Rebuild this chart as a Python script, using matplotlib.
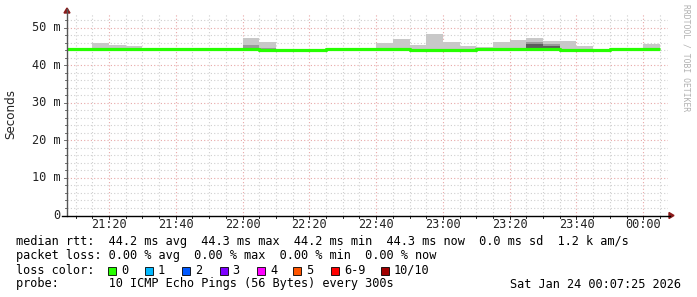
import numpy as np
import matplotlib
matplotlib.use("Agg")
import matplotlib.pyplot as plt

# 5-minute steps, minutes after 21:00 (first step 21:05 ... last 00:00)
step_start = list(range(5, 185, 5))
median_ms = [44.2, 44.2, 44.2, 44.2, 44.2, 44.2, 44.2, 44.2, 44.2, 44.2, 44.2, 44.2,
             44.1, 44.1, 44.1, 44.1, 44.3, 44.3, 44.2, 44.2, 44.2, 44.1, 44.1, 44.1,
             44.1, 44.3, 44.2, 44.2, 44.2, 44.2, 44.0, 44.0, 44.1, 44.3, 44.3, 44.2]
smoke_max = [44.5, 44.5, 46.0, 45.3, 45.1, 44.5, 44.5, 44.5, 44.5, 44.5, 44.5, 47.2,
             46.1, 44.4, 44.4, 44.4, 44.6, 44.6, 44.5, 46.0, 46.9, 45.3, 48.3, 46.1,
             45.1, 44.8, 46.1, 46.7, 47.3, 46.5, 46.3, 45.1, 44.4, 44.6, 44.6, 45.6]
smoke_mid = [44.4, 44.4, 44.5, 44.5, 44.5, 44.4, 44.4, 44.4, 44.4, 44.4, 44.4, 45.3,
             44.6, 44.3, 44.3, 44.3, 44.5, 44.5, 44.4, 44.5, 44.5, 44.4, 44.4, 44.4,
             44.4, 44.5, 44.4, 44.4, 46.1, 45.6, 44.3, 44.3, 44.3, 44.5, 44.5, 44.4]
smoke_dark = [44.3, 44.3, 44.3, 44.3, 44.3, 44.3, 44.3, 44.3, 44.3, 44.3, 44.3, 44.4,
              44.3, 44.2, 44.2, 44.2, 44.4, 44.4, 44.3, 44.3, 44.3, 44.2, 44.2, 44.2,
              44.2, 44.4, 44.3, 44.3, 45.6, 45.0, 44.2, 44.2, 44.2, 44.4, 44.4, 44.3]

x_ticks = [20, 40, 60, 80, 100, 120, 140, 160, 180]
x_labels = ["21:20", "21:40", "22:00", "22:20", "22:40", "23:00", "23:20", "23:40", "00:00"]
y_ticks = [0, 10, 20, 30, 40, 50]
y_labels = ["0", "10 m", "20 m", "30 m", "40 m", "50 m"]

loss_labels = ["0", "1", "2", "3", "4", "5", "6-9", "10/10"]
loss_colors = ["#26ff00", "#00b8ff", "#0059ff", "#7e00ff", "#ff00ff", "#ff5500", "#ff0000", "#a10000"]

W, H = 697, 297
fig = plt.figure(figsize=(W / 100, H / 100), dpi=100)
MONO = "DejaVu Sans Mono"
FS = 8.6

def fx(x):
    return x / W

def fy(y):
    return 1 - y / H

left, right, top, bottom = 67, 668, 12.5, 215.5
ax = fig.add_axes([fx(left), fy(bottom), (right - left) / W, (bottom - top) / H])
ax.set_xlim(7 + 25 / 60, 187 + 25 / 60)
ax.set_ylim(0, 54)

# grid
for m in range(10, 190, 5):
    major = m % 20 == 0
    ax.axvline(m, color="#e8a8a8" if major else "#cfcfcf", lw=0.8,
               ls=(0, (1, 2)), zorder=1)
for v in range(2, 54, 2):
    major = v % 10 == 0
    ax.axhline(v, color="#e8a8a8" if major else "#cfcfcf", lw=0.8,
               ls=(0, (1, 2)), zorder=1)

# smoke
starts = np.array(step_start)
med = np.array(median_ms)
low = med - 0.2
ax.bar(starts, np.array(smoke_max) - low, bottom=low, width=5, align="edge",
       color="#c8c8c8", linewidth=0, zorder=2)
ax.bar(starts, np.array(smoke_mid) - low, bottom=low, width=5, align="edge",
       color="#9a9a9a", linewidth=0, zorder=3)
ax.bar(starts, np.array(smoke_dark) - low, bottom=low, width=5, align="edge",
       color="#5c5c5c", linewidth=0, zorder=4)

# median line
sx = list(step_start) + [step_start[-1] + 5]
sy = list(median_ms) + [median_ms[-1]]
ax.step(sx, sy, where="post", color="#26ff00", lw=2.3, zorder=5, solid_capstyle="butt")

for s in ax.spines.values():
    s.set_visible(False)
ax.set_xticks([])
ax.set_yticks([])

# axes lines and arrows
fig.add_artist(plt.Line2D([fx(left), fx(left)], [fy(bottom), fy(9)], color="#555555", lw=1.0))
fig.add_artist(plt.Line2D([fx(62), fx(670)], [fy(bottom), fy(bottom)], color="#000000", lw=1.0))
fig.add_artist(plt.Polygon([[fx(64), fy(13)], [fx(70), fy(13)], [fx(67), fy(8)]],
                           closed=True, color="#8b1a1a"))
fig.add_artist(plt.Polygon([[fx(669), fy(212.5)], [fx(669), fy(218.5)], [fx(674), fy(215.5)]],
                           closed=True, color="#8b1a1a"))

# tick marks
xscale = (right - left) / 180.0
x0 = 7 + 25 / 60
for m in range(10, 190, 5):
    px = left + (m - x0) * xscale
    if px > right:
        continue
    ln = 3 if m % 20 == 0 else 2
    fig.add_artist(plt.Line2D([fx(px), fx(px)], [fy(bottom), fy(bottom + ln)], color="#000000", lw=0.6))
yscale = (bottom - top) / 54.0
for v in range(2, 54, 2):
    py = bottom - v * yscale
    ln = 3 if v % 10 == 0 else 2
    fig.add_artist(plt.Line2D([fx(left - ln), fx(left)], [fy(py), fy(py)], color="#555555", lw=0.6))

# tick labels
for m, lab in zip(x_ticks, x_labels):
    px = left + (m - x0) * xscale
    fig.text(fx(px), fy(225), lab, ha="center", va="center", family=MONO, fontsize=FS, color="#222222")
for v, lab in zip(y_ticks, y_labels):
    py = bottom - v * yscale
    fig.text(fx(60), fy(py), lab, ha="right", va="center", family=MONO, fontsize=FS, color="#222222")

fig.text(fx(11), fy(114), "Seconds", rotation=90, ha="center", va="center",
         family="DejaVu Sans", fontsize=8.6, color="#222222")
fig.text(fx(686), fy(4), "RRDTOOL / TOBI OETIKER", rotation=-90, ha="center", va="top",
         family=MONO, fontsize=5.8, color="#b0b0b0")

# legend
fig.text(fx(16), fy(241), "median rtt:  44.2 ms avg  44.3 ms max  44.2 ms min  44.3 ms now  0.0 ms sd  1.2 k am/s",
         ha="left", va="center", family=MONO, fontsize=FS, color="#000000")
fig.text(fx(16), fy(255.5), "packet loss: 0.00 % avg  0.00 % max  0.00 % min  0.00 % now",
         ha="left", va="center", family=MONO, fontsize=FS, color="#000000")
fig.text(fx(16), fy(270), "loss color:", ha="left", va="center", family=MONO, fontsize=FS, color="#000000")
box_x = [108, 145, 182, 219.5, 257, 293, 331, 381]
for bx, lab, col in zip(box_x, loss_labels, loss_colors):
    fig.add_artist(plt.Rectangle((fx(bx), fy(274.5)), 8 / W, 8 / H, facecolor=col,
                                 edgecolor="#000000", lw=0.6))
    fig.text(fx(bx + 13), fy(270), lab, ha="left", va="center", family=MONO, fontsize=FS, color="#000000")
fig.text(fx(16), fy(284), "probe:       10 ICMP Echo Pings (56 Bytes) every 300s",
         ha="left", va="center", family=MONO, fontsize=FS, color="#000000")
fig.text(fx(681), fy(284), "Sat Jan 24 00:07:25 2026", ha="right", va="center",
         family=MONO, fontsize=FS, color="#000000")

fig.savefig("out.png", dpi=100, facecolor="white")
